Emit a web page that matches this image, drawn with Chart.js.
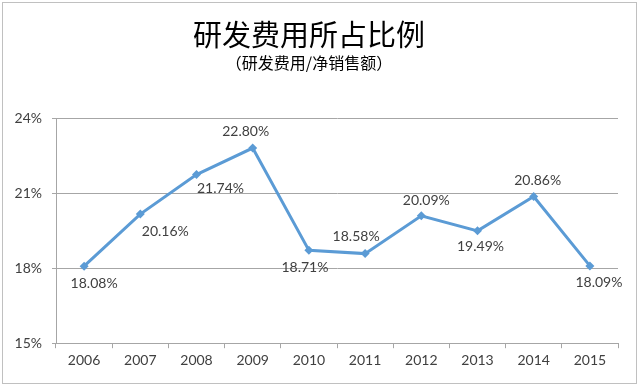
<!DOCTYPE html>
<html>
<head>
<meta charset="utf-8">
<script src="https://cdn.jsdelivr.net/npm/chart.js@4.4.0/dist/chart.umd.min.js"></script>
<style>
html,body{margin:0;padding:0;background:#fff;}
#wrap{width:640px;height:387px;position:relative;}
</style>
</head>
<body>
<div id="wrap"><canvas id="c" width="640" height="387"></canvas></div>
<script>
const categories = ['2006','2007','2008','2009','2010','2011','2012','2013','2014','2015'];
const ratioValues = [18.08, 20.16, 21.74, 22.80, 18.71, 18.58, 20.09, 19.49, 20.86, 18.09];
const yTicks = [15, 18, 21, 24];
const titleText = '研发费用所占比例';
const subtitleText = '（研发费用/净销售额）';

// label offsets (px) relative to each point, as placed in the reference
const labelOffsets = [[10,17],[25,17],[24,14],[-7,-17],[-4,17],[-9,-17],[5,-15],[3,16],[4,-16],[9,17]];

const borderPlugin = {
  id: 'outerBorder',
  beforeDraw(chart) {
    const ctx = chart.ctx;
    ctx.save();
    ctx.fillStyle = '#fff';
    ctx.fillRect(0,0,chart.width,chart.height);
    ctx.strokeStyle = '#c0c0c0';
    ctx.lineWidth = 1;
    ctx.strokeRect(2.5, 2.5, 634, 381);
    ctx.restore();
  }
};

const labelPlugin = {
  id: 'pointLabels',
  afterDatasetsDraw(chart) {
    const ctx = chart.ctx;
    const meta = chart.getDatasetMeta(0);
    ctx.save();
    ctx.font = '14px Lato, "Open Sans", sans-serif';
    ctx.fillStyle = '#404040';
    ctx.textAlign = 'center';
    ctx.textBaseline = 'middle';
    meta.data.forEach((pt, i) => {
      const off = labelOffsets[i];
      ctx.fillText(ratioValues[i].toFixed(2) + '%', pt.x + off[0], pt.y + off[1]);
    });
    ctx.restore();
  }
};

new Chart(document.getElementById('c'), {
  type: 'line',
  data: {
    labels: categories,
    datasets: [{
      data: ratioValues,
      borderColor: '#5B9BD5',
      backgroundColor: '#5B9BD5',
      borderWidth: 3,
      pointStyle: 'rectRot',
      pointRadius: 4.5,
      pointBorderWidth: 0,
      pointBackgroundColor: '#5B9BD5',
      tension: 0,
      fill: false
    }]
  },
  options: {
    responsive: false,
    animation: false,
    devicePixelRatio: 1,
    layout: { padding: { left: 0, right: 22, top: 0, bottom: 14 } },
    plugins: {
      legend: { display: false },
      tooltip: { enabled: false },
      title: {
        display: true,
        text: titleText,
        color: '#000',
        font: { family: '"Noto Sans CJK SC", sans-serif', size: 29, weight: 'normal', lineHeight: 1 },
        padding: { top: 20, bottom: 0 }
      },
      subtitle: {
        display: true,
        text: subtitleText,
        color: '#000',
        font: { family: '"Noto Sans CJK SC", sans-serif', size: 16, weight: 'normal', lineHeight: 1 },
        padding: { top: 6, bottom: 47 }
      }
    },
    scales: {
      x: {
        type: 'category',
        offset: true,
        grid: {
          display: true,
          offset: true,
          drawOnChartArea: false,
          drawTicks: true,
          tickLength: 5,
          color: '#a6a6a6'
        },
        border: { display: true, color: '#a6a6a6', width: 1 },
        ticks: {
          color: '#404040',
          font: { family: 'Lato, "Open Sans", sans-serif', size: 14 },
          padding: 4,
          maxRotation: 0
        }
      },
      y: {
        type: 'linear',
        min: 15,
        max: 24,
        afterFit(scale) { scale.width = 56; },
        afterBuildTicks(scale) { scale.ticks = yTicks.map(v => ({ value: v })); },
        grid: {
          color: '#a6a6a6',
          tickLength: 4,
          drawTicks: true
        },
        border: { display: true, color: '#a6a6a6', width: 1 },
        ticks: {
          color: '#404040',
          font: { family: 'Lato, "Open Sans", sans-serif', size: 14 },
          padding: 10,
          callback: v => v + '%'
        }
      }
    }
  },
  plugins: [borderPlugin, labelPlugin]
});
</script>
</body>
</html>
